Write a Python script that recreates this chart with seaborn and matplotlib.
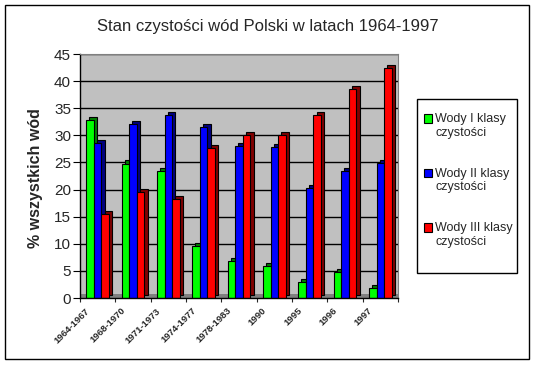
import numpy as np
import pandas as pd
import matplotlib
matplotlib.use("Agg")
import matplotlib.pyplot as plt
import matplotlib.patheffects as pe
from matplotlib.patches import Rectangle
from matplotlib.legend_handler import HandlerPatch
from matplotlib.transforms import ScaledTranslation
import seaborn as sns

# dane (% wszystkich wód)
okresy = ["1964-1967", "1968-1970", "1971-1973", "1974-1977", "1978-1983",
          "1990", "1995", "1996", "1997"]
klasa_1 = [32.8, 24.8, 23.4, 9.6, 6.9, 5.9, 2.9, 4.8, 1.8]
klasa_2 = [28.5, 32.0, 33.7, 31.5, 28.1, 27.8, 20.3, 23.5, 24.9]
klasa_3 = [15.4, 19.5, 18.2, 27.7, 30.0, 30.1, 33.8, 38.6, 42.4]
serie = ["Wody I klasy\nczystości", "Wody II klasy\nczystości",
         "Wody III klasy\nczystości"]
y_ticks = list(range(0, 50, 5))

kolory = ["#00FF00", "#0000FF", "#FF0000"]
ciemne = ["#008000", "#000080", "#800000"]

df = pd.DataFrame({
    "okres": okresy * 3,
    "wartosc": klasa_1 + klasa_2 + klasa_3,
    "seria": np.repeat(serie, len(okresy)),
})

sns.set_style("white")
plt.rcParams["font.family"] = ["Liberation Sans", "DejaVu Sans"]

W, H = 536, 365
fig = plt.figure(figsize=(W / 100, H / 100), dpi=100)
ax = fig.add_axes([80 / W, 1 - 298 / H, (398 - 80) / W, (298 - 54) / H])
ax.set_facecolor("#C0C0C0")

sns.barplot(data=df, x="okres", y="wartosc", hue="seria", palette=kolory,
            saturation=1, width=0.65, edgecolor="black", linewidth=0.8,
            ax=ax)

# efekt 3D: ciemny bok słupka przesunięty w prawo i w górę
for cont, ciemny in zip(ax.containers, ciemne):
    for bar in cont:
        bar.set_path_effects([
            pe.PathPatchEffect(offset=(2.2, 2.2), facecolor=ciemny,
                               edgecolor="black", linewidth=0.8),
            pe.Normal(),
        ])

# podłoga
ax.add_patch(Rectangle((0, 0), 1, 4 / 244, transform=ax.transAxes,
                       facecolor="#808080", edgecolor="none", zorder=0.8))

ax.set_xlim(-0.5, len(okresy) - 0.5)
ax.set_ylim(0, 45)
ax.set_yticks(y_ticks)
ax.yaxis.grid(True, color="black", linewidth=1)
ax.set_axisbelow(True)

for s in ["top", "right"]:
    ax.spines[s].set_color("#808080")
for s in ["left", "bottom"]:
    ax.spines[s].set_color("black")
    ax.spines[s].set_linewidth(1)

ax.tick_params(axis="y", left=True, length=5, width=0.8, pad=1.5,
               labelsize=11, color="black")
ax.set_xticks(np.arange(-0.5, len(okresy)), minor=True)
ax.tick_params(axis="x", which="minor", bottom=True, length=3, width=0.8)
ax.tick_params(axis="x", which="major", bottom=False, length=0, pad=3)
ax.set_xticks(range(len(okresy)))
ax.set_xticklabels(okresy, rotation=45, ha="right", va="top", fontsize=6.8,
                   fontweight="bold")
shift = ScaledTranslation(-6 / 100, -4 / 100, fig.dpi_scale_trans)
for lab in ax.get_xticklabels():
    lab.set_transform(lab.get_transform() + shift)

ax.set_xlabel("")
ax.set_ylabel("% wszystkich wód", fontsize=11.5, fontweight="bold")
ax.yaxis.set_label_coords((43 - 80) / 318, (298 - 178) / 244)

fig.text(0.5, 1 - 26 / H, "Stan czystości wód Polski w latach 1964-1997",
         ha="center", va="center", fontsize=12)


def kwadrat(legend, orig_handle, xdescent, ydescent, width, height, fontsize):
    return Rectangle((-xdescent, -ydescent + 0.6 * fontsize), width, height)


handles, labels = ax.get_legend_handles_labels()
ax.get_legend().remove()
leg = fig.legend(handles, labels, loc="upper left",
                 bbox_to_anchor=(424 / W, 1 - 113 / H),
                 fontsize=9, frameon=False, borderpad=0,
                 labelspacing=2.3, handlelength=0.65, handleheight=0.65,
                 handletextpad=0.25, borderaxespad=0,
                 handler_map={h: HandlerPatch(patch_func=kwadrat)
                              for h in handles})
for h in leg.legend_handles:
    h.set_edgecolor("black")
    h.set_linewidth(0.8)

# ramka legendy
fig.patches.append(Rectangle((417 / W, 1 - 273 / H), 100 / W, 174 / H,
                             transform=fig.transFigure, fill=False,
                             edgecolor="black", linewidth=1))
# ramka całego wykresu
fig.patches.append(Rectangle((5 / W, 1 - 359 / H), 524 / W, 354 / H,
                             transform=fig.transFigure, fill=False,
                             edgecolor="black", linewidth=1))

fig.savefig("out.png", dpi=100)
